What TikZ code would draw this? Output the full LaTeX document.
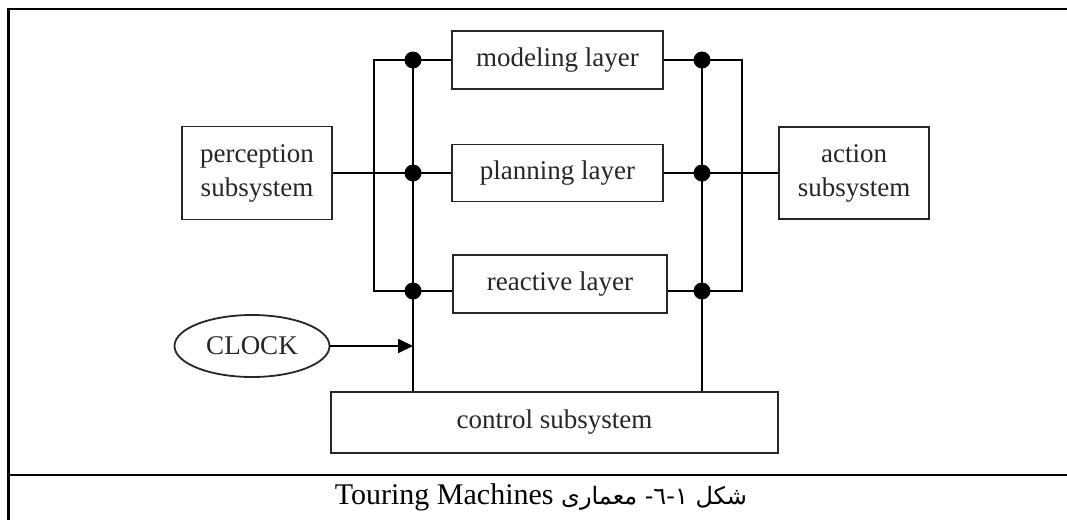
\documentclass[tikz,border=0pt]{standalone}
\usepackage{fontspec}
\setmainfont{Liberation Serif}
\newfontfamily\arabicfont[Script=Arabic]{DejaVu Sans}
\TeXXeTstate=1
\usetikzlibrary{shapes.geometric,arrows.meta}

\begin{document}
\begin{tikzpicture}[x=1pt,y=-1pt,
  box/.style={draw=black!85,line width=1.8pt,inner sep=0pt,
    font=\fontsize{27}{34}\selectfont,text=black!85,align=center},
  wire/.style={line width=1.8pt,draw=black},
  junction/.style={circle,fill=black,inner sep=0pt,minimum size=17pt},
  frameline/.style={line width=2.6pt,draw=black}]
\useasboundingbox (0,0) rectangle (1067,520);

% outer frame and caption separator
\draw[frameline] (8.5,520) -- (8.5,9) -- (1067,9);
\draw[frameline] (8.5,475) -- (1067,475);

% layers and subsystems
\node[box,minimum width=211pt,minimum height=58pt] (model) at (557.5,60) {modeling layer};
\node[box,minimum width=211pt,minimum height=57pt] (plan) at (557.5,173) {planning layer};
\node[box,minimum width=214pt,minimum height=58pt] (react) at (560,284) {reactive layer};
\node[box,minimum width=150pt,minimum height=93pt] (percep) at (257,173) {perception\\subsystem};
\node[box,minimum width=150pt,minimum height=92pt] (action) at (854,173) {action\\subsystem};
\node[box,minimum width=447pt,minimum height=61pt] (control) at (554.5,422.5) {control subsystem};
\node[box,ellipse,minimum width=155pt,minimum height=62pt] (clock) at (252,346) {CLOCK};

% bus junction points
\coordinate (jl1) at (413,60);
\coordinate (jl2) at (413,173);
\coordinate (jl3) at (413,291);
\coordinate (jr1) at (702,60);
\coordinate (jr2) at (702,173);
\coordinate (jr3) at (702,291);
\coordinate (ol1) at (374,60);
\coordinate (ol3) at (374,291);
\coordinate (or1) at (742,60);
\coordinate (or3) at (742,291);

% input side
\draw[wire] (model.west) -- (ol1) -- (ol3) -- (react.west |- ol3);
\draw[wire] (percep.east) -- (plan.west);
\draw[wire] (jl1) -- (jl1 |- control.north);

% output side
\draw[wire] (model.east) -- (or1) -- (or3) -- (react.east |- or3);
\draw[wire] (plan.east) -- (action.west);
\draw[wire] (jr1) -- (jr1 |- control.north);

% clock input
\draw[wire,-{Triangle[length=15pt,width=14pt]}] (clock.east) -- (clock.east -| jl1);

% junction dots
\foreach \j in {jl1,jl2,jl3,jr1,jr2,jr3}
  \node[junction] (dot-\j) at (\j) {};

% caption
\node[font=\fontsize{24}{28}\selectfont] (caption) at (541,497)
  {\arabicfont\beginR شکل ١-٦- معماری \beginL{\rmfamily\fontsize{30}{32}\selectfont Touring Machines}\endL\endR};
\end{tikzpicture}
\end{document}
